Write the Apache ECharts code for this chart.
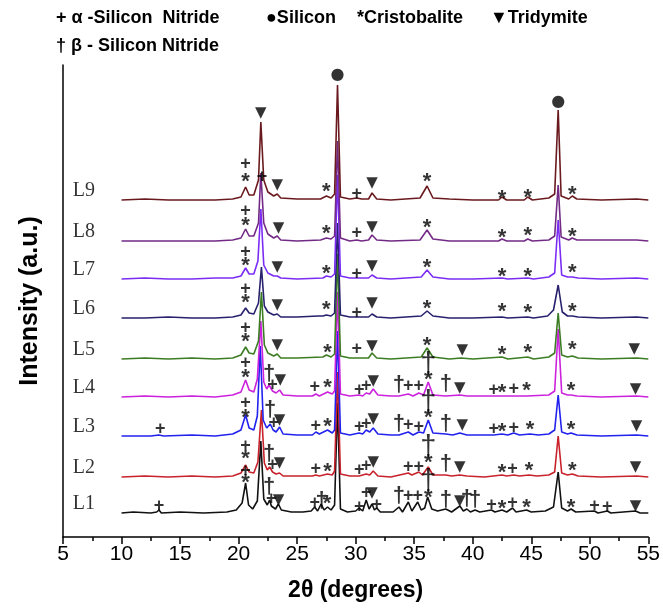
<!DOCTYPE html>
<html><head><meta charset="utf-8">
<script src="https://cdn.jsdelivr.net/npm/echarts@6/dist/echarts.min.js"></script>
<style>html,body{margin:0;padding:0;background:#fff}#c{width:663px;height:610px}</style>
</head><body><div id="c"></div>
<script>
// ---- DATA (2θ in degrees, relative intensity a.u.) ----
const seriesNames = ['L1','L2','L3','L4','L5','L6','L7','L8','L9'];
const stackOffsets = [24, 60, 101, 140, 178, 219, 258, 296, 337];
const xTicks = [5,10,15,20,25,30,35,40,45,50,55];

const L1 = [[10,0],[11,1],[12.5,0],[13.0,1],[13.2,3],[13.4,0],[15,1],[17,0],[19,1],[19.8,3],[20.3,10],[20.6,30],[20.85,8],[21.2,4],[21.6,12],[21.9,72],[22.15,14],[22.45,8],[22.65,13],[22.8,7],[22.95,9],[23.15,4],[23.4,9],[23.65,3],[24.5,1],[25.5,1],[26.2,2],[26.5,6],[26.75,2],[27.05,9],[27.3,3],[27.6,6],[27.9,3],[28.2,8],[28.45,110],[28.7,4],[29.3,1],[30.0,2],[30.3,5],[30.6,2],[30.9,13],[31.15,4],[31.4,9],[31.6,3],[31.8,5],[32.1,1],[33.2,1],[33.7,6],[34.0,1],[34.5,11],[34.8,2],[35.3,11],[35.6,3],[35.9,5],[36.15,16],[36.5,4],[37.0,2],[37.7,4],[38.2,1],[38.9,7],[39.2,2],[39.5,4],[39.8,1],[40.2,3],[40.6,1],[41.6,3],[41.9,1],[42.5,3],[42.9,1],[43.4,5],[43.7,1],[44.6,3],[45.0,1],[46.2,2],[46.9,6],[47.3,41],[47.6,5],[48.1,2],[48.4,4],[48.8,1],[50.4,2],[50.7,0],[51.5,2],[51.8,0],[53.9,2],[54.3,0],[55,0]];
const L2 = [[10,0],[12,1],[14,0],[16,1],[18,0],[19.5,1],[20.2,4],[20.6,12],[20.9,5],[21.3,4],[21.65,15],[21.95,67],[22.2,14],[22.45,7],[22.65,10],[22.9,5],[23.2,3],[23.5,4],[23.8,1],[25,1],[26.3,1],[26.6,2],[26.9,1],[27.6,3],[28.0,2],[28.2,6],[28.45,105],[28.7,3],[29.5,1],[30.3,1],[30.9,3],[31.2,2],[31.5,6],[31.9,1],[33,0],[34.5,4],[34.8,2],[35.4,5],[35.7,2],[36.2,10],[36.6,2],[37.7,2],[38.2,1],[38.9,2],[39.5,1],[41,0],[42.5,2],[42.9,1],[43.5,2],[44.0,1],[44.8,2],[45.5,1],[46.5,2],[47.0,5],[47.3,41],[47.6,4],[48.1,2],[48.5,3],[49,1],[51,0],[54,1],[55,0]];
const L3 = [[10,0],[12.5,0],[13.2,1],[13.6,0],[16,1],[18,0],[19.5,2],[20.2,6],[20.6,21],[20.9,8],[21.3,6],[21.6,20],[21.85,90],[22.1,16],[22.4,8],[22.7,12],[22.95,6],[23.2,4],[23.5,9],[23.8,2],[25,1],[26.3,1],[26.6,4],[26.9,2],[27.6,6],[28.0,3],[28.2,6],[28.45,105],[28.7,3],[29.5,1],[30.3,3],[30.6,2],[30.9,6],[31.2,4],[31.5,8],[31.9,2],[33.0,1],[33.7,1],[34.5,4],[34.9,1],[35.4,4],[35.8,3],[36.2,16],[36.6,3],[37.7,2],[38.3,1],[38.9,3],[39.5,1],[41.8,1],[42.5,2],[43.0,1],[43.5,3],[44.0,1],[44.9,2],[45.6,1],[46.5,2],[47.0,6],[47.3,41],[47.6,4],[48.1,2],[48.4,3],[48.9,1],[51,0],[54,1],[55,0]];
const L4 = [[10,0],[12,1],[14,0],[16,1],[18,0],[19.5,2],[20.2,5],[20.6,17],[20.9,7],[21.3,5],[21.6,18],[21.9,76],[22.15,15],[22.4,8],[22.6,12],[22.9,6],[23.2,4],[23.5,7],[23.8,2],[25,1],[26.3,1],[26.6,3],[26.9,1],[27.6,5],[28.0,3],[28.2,6],[28.45,105],[28.7,3],[29.5,1],[30.3,2],[30.6,1],[30.9,4],[31.2,3],[31.5,8],[31.9,2],[33.0,1],[33.7,1],[34.5,3],[34.9,1],[35.4,4],[35.8,2],[36.2,15],[36.6,2],[37.7,1],[38.9,2],[39.5,1],[42.5,1],[43.5,1],[44.6,1],[46.5,2],[47.0,6],[47.3,68],[47.6,4],[48.1,2],[48.4,2],[48.9,1],[51,0],[54,1],[55,0]];
const L5 = [[10,0],[12,1],[14,0],[16,1],[18,0],[19.5,1],[20.2,4],[20.6,12],[20.9,6],[21.3,5],[21.7,18],[21.95,67],[22.2,14],[22.5,6],[23.0,3],[23.3,5],[23.6,1],[25,1],[27.2,2],[27.5,4],[27.9,2],[28.2,5],[28.45,105],[28.7,3],[29.5,1],[30.1,1],[31.1,1],[31.4,6],[31.8,1],[33,0],[35.6,2],[36.1,11],[36.6,2],[38,0],[39.0,1],[40,0],[42.5,2],[43,0],[44.7,2],[45.2,0],[46.5,2],[47.0,6],[47.3,46],[47.6,4],[48.1,2],[48.5,3],[49,1],[51,0],[54,1],[55,0]];
const L6 = [[10,0],[12,0],[14,1],[16,0],[18,0],[19.5,1],[20.2,3],[20.6,10],[20.9,5],[21.3,4],[21.7,15],[21.95,51],[22.2,12],[22.5,6],[23.0,3],[23.3,4],[23.6,1],[25,1],[26.8,2],[27.2,2],[27.5,3],[27.9,2],[28.2,5],[28.45,95],[28.7,3],[29.5,1],[30.1,1],[31.1,1],[31.4,4],[31.8,1],[33,0],[35.6,2],[36.1,7],[36.6,2],[38,0],[40,0],[42.5,1],[43,0],[44.7,1],[45.2,0],[46.4,2],[46.9,8],[47.3,33],[47.65,6],[48.1,2],[48.5,2],[49,1],[51,0],[54,1],[55,0]];
const L7 = [[10,0],[12,1],[14,0],[16,0],[18,1],[19.5,1],[20.2,3],[20.6,11],[20.9,5],[21.3,5],[21.65,18],[21.9,70],[22.15,14],[22.5,6],[23.0,3],[23.3,3],[23.6,1],[25,0],[27.2,1],[27.5,3],[27.9,2],[28.2,5],[28.45,104],[28.7,3],[29.5,1],[30.1,1],[31.1,1],[31.4,4],[31.8,1],[33,0],[35.6,2],[36.1,9],[36.6,2],[38,0],[40,0],[42.5,1],[43,0],[44.7,1],[45.2,0],[46.5,2],[47.0,6],[47.3,59],[47.6,4],[48.1,2],[48.5,2],[49,1],[51,0],[54,1],[55,0]];
const L8 = [[10,0],[14,0],[18,0],[19.5,1],[20.2,3],[20.6,12],[20.9,5],[21.3,5],[21.7,18],[21.9,68],[22.15,18],[22.5,7],[23.0,3],[23.3,5],[23.6,1],[25,0],[27,1],[27.5,3],[27.9,2],[28.2,5],[28.45,100],[28.7,3],[29.5,0],[30.1,1],[30.5,0],[31.1,1],[31.4,6],[31.8,1],[33,0],[35.5,1],[36.1,11],[36.6,2],[38,0],[42.2,0],[42.5,2],[42.9,0],[44.4,0],[44.7,2],[45.1,0],[46.5,1],[47.0,5],[47.3,56],[47.55,4],[48.2,1],[48.5,3],[48.9,1],[54,1],[55,0]];
const L9 = [[10,0],[12,1],[14,0],[16,0],[18,0],[19.5,1],[20.2,3],[20.6,13],[20.9,5],[21.3,5],[21.7,20],[21.9,78],[22.15,20],[22.5,8],[23.0,4],[23.3,6],[23.6,2],[25,1],[27,1],[27.5,4],[27.9,2],[28.2,6],[28.45,115],[28.7,3],[29.5,1],[30.1,2],[30.5,1],[31.1,1],[31.4,7],[31.8,1],[33,0],[35.5,2],[36.1,14],[36.6,2],[38,1],[40,0],[42.2,0],[42.5,3],[42.9,0],[44.4,0],[44.7,3],[45.1,0],[46.5,2],[47.0,6],[47.3,90],[47.55,4],[48.2,1],[48.5,4],[48.9,1],[51,0],[54,1],[55,0]];

// phase marks: [2θ, glyph, height above the pattern's baseline]
const annL1 = [[13.2,'+',7],[20.6,'*',35],[20.6,'+',42],[22.6,'†',28],[22.8,'+',14],[23.4,'▼',13],[26.5,'+',10],[27.1,'†',14],[27.55,'*',14],[30.3,'+',6],[30.9,'+',20],[31.4,'▼',20],[31.8,'+',8],[33.7,'†',19],[34.5,'+',17],[35.3,'+',17],[36.2,'*',20],[36.2,'†L',34],[37.7,'†',15],[38.9,'▼',12],[39.5,'†',16],[40.2,'†',15],[41.6,'+',8],[42.5,'*',9],[43.4,'+',10],[44.6,'*',10],[48.4,'*',10],[50.4,'+',7],[51.5,'+',6],[53.9,'▼',7]];
const annL2 = [[20.6,'*',23],[20.6,'+',31],[22.6,'†',25],[22.9,'+',12],[23.5,'▼',14],[26.6,'+',8],[27.6,'*',10],[30.3,'+',7],[30.9,'+',11],[31.5,'▼',15],[34.5,'+',10],[35.4,'+',10],[36.2,'*',19],[36.2,'†L',32],[37.7,'†',15],[38.9,'▼',10],[42.5,'*',9],[43.4,'+',8],[44.8,'*',11],[48.5,'*',11],[53.9,'▼',10]];
const annL3 = [[13.3,'+',7],[20.6,'*',23],[20.6,'+',33],[22.7,'†',28],[23.0,'+',13],[23.5,'▼',16],[26.6,'+',10],[27.6,'*',14],[30.3,'+',9],[30.9,'+',12],[31.5,'▼',17],[33.7,'†',14],[34.5,'+',11],[35.4,'+',9],[36.2,'*',23],[36.2,'†L',36],[37.7,'†',14],[39.1,'▼',11],[41.8,'+',7],[42.5,'*',9],[43.5,'+',8],[44.9,'*',11],[48.4,'*',11],[54.0,'▼',10]];
const annL4 = [[20.6,'*',24],[20.6,'+',34],[22.6,'†',25],[22.9,'+',12],[23.55,'▼',17],[26.5,'+',10],[27.6,'*',14],[30.3,'+',7],[30.9,'+',11],[31.5,'▼',16],[33.7,'†',14],[34.5,'+',11],[35.4,'+',11],[36.2,'*',22],[36.2,'†L',35],[37.7,'†',15],[38.9,'▼',9],[41.8,'+',7],[42.5,'*',9],[43.5,'+',8],[44.6,'*',11],[48.4,'*',11],[53.9,'▼',8]];
const annL5 = [[20.6,'*',22],[20.6,'+',31],[23.3,'▼',14],[27.6,'*',11],[30.1,'+',10],[31.4,'▼',13],[36.1,'*',18],[39.1,'▼',9],[42.5,'*',9],[44.7,'*',11],[48.5,'*',14],[53.8,'▼',10]];
const annL6 = [[20.6,'*',20],[20.6,'+',29],[23.3,'▼',13],[27.5,'*',13],[30.1,'+',5],[31.4,'▼',15],[36.1,'*',14],[42.5,'*',11],[44.7,'*',10],[48.5,'*',11]];
const annL7 = [[20.6,'*',18],[20.6,'+',27],[23.3,'▼',12],[27.5,'*',10],[30.1,'+',5],[31.4,'▼',13],[36.1,'*',16],[42.5,'*',7],[44.7,'*',7],[48.5,'*',11]];
const annL8 = [[20.6,'*',20],[20.6,'+',30],[23.4,'▼',13],[27.5,'*',12],[30.1,'+',8],[31.4,'▼',14],[36.1,'*',18],[42.5,'*',8],[44.7,'*',10],[48.5,'*',9]];
const annL9 = [[20.6,'*',23],[20.6,'+',36],[22.0,'+',23],[21.9,'▼',87],[23.3,'▼',15],[27.5,'*',13],[28.45,'●',125],[30.1,'+',6],[31.4,'▼',17],[36.1,'*',23],[42.5,'*',6],[44.7,'*',7],[47.3,'●',98],[48.5,'*',10]];

// ---- BUILD ----
const patterns = [L1,L2,L3,L4,L5,L6,L7,L8,L9];
const marks = [annL1,annL2,annL3,annL4,annL5,annL6,annL7,annL8,annL9];
const colors = ['#111111','#c8232c','#2222ee','#cc22dd','#3c7d23','#27216e','#7a2cf5','#732a86','#6a1a1e'];

const glyph = {
  '+': {text:'+', fontSize:18, fontWeight:'bold', fontFamily:'Liberation Sans', offset:[0,0]},
  '*': {text:'*', fontSize:22, fontWeight:'bold', fontFamily:'Liberation Sans', offset:[0,5]},
  '†': {text:'†', fontSize:22, fontWeight:'bold', fontFamily:'Liberation Sans', offset:[0,2]},
  '†L': {text:'†', fontSize:29, fontWeight:'normal', fontFamily:'Liberation Sans', offset:[0,3]},
  '▼': {text:'▼', fontSize:15, fontWeight:'normal', fontFamily:'DejaVu Sans', offset:[0,0]},
  '●': {text:'●', fontSize:16, fontWeight:'normal', fontFamily:'DejaVu Sans', offset:[0,0]}
};
const clear = 'rgba(0,0,0,0)';

const series = [];
patterns.forEach((p, i) => {
  series.push({
    type:'line', name:seriesNames[i], data:p.map(d => [d[0], d[1] + stackOffsets[i]]),
    showSymbol:false, symbol:'none', lineStyle:{color:colors[i], width:1.6}, z:2, animation:false
  });
});
const markData = [];
marks.forEach((m, i) => {
  m.forEach(a => {
    const g = glyph[a[1]];
    markData.push({value:[a[0], a[2] + stackOffsets[i]], label:{show:true, position:'inside', formatter:g.text,
      fontSize:g.fontSize, fontWeight:g.fontWeight, fontFamily:g.fontFamily, color:'#000', offset:g.offset}});
  });
});
series.push({type:'scatter', data:markData, symbolSize:1, itemStyle:{color:clear}, z:5, silent:true, animation:false});
series.push({type:'scatter', silent:true, animation:false, symbolSize:1, itemStyle:{color:clear}, z:5,
  data: seriesNames.map((n,i)=>({value:[10, stackOffsets[i]], label:{show:true, position:'left', distance:26, offset:[0,-9],
    formatter:n, fontFamily:'Liberation Serif', fontSize:20, color:'#000'}}))});

const chart = echarts.init(document.getElementById('c'), null, {renderer:'canvas'});
chart.setOption({
  animation:false,
  backgroundColor:'#fff',
  grid:{left:63, right:13, top:65, bottom:73},
  xAxis:{type:'value', min:xTicks[0], max:xTicks[xTicks.length-1], interval:5, minorTick:{show:true, splitNumber:2, length:4, lineStyle:{color:'#000', width:1.5}},
    axisLine:{onZero:false, lineStyle:{color:'#000', width:1.5}}, axisTick:{inside:false, length:7, lineStyle:{color:'#000', width:1.5}},
    splitLine:{show:false}, axisLabel:{color:'#000', fontSize:21, fontFamily:'Liberation Sans', margin:7},
    name:'2θ (degrees)', nameLocation:'middle', nameGap:42, nameTextStyle:{fontSize:23, fontWeight:'bold', fontFamily:'Liberation Sans', color:'#000'}},
  yAxis:{type:'value', min:0, max:472, axisLine:{show:true, lineStyle:{color:'#000', width:1.5}}, axisTick:{show:false}, axisLabel:{show:false}, splitLine:{show:false},
    name:'Intensity (a.u.)', nameLocation:'middle', nameGap:20, nameTextStyle:{fontSize:25, fontWeight:'bold', fontFamily:'Liberation Sans', color:'#000'}},
  graphic:[
    {type:'text', left:56, top:9, style:{text:'+ α -Silicon  Nitride', font:'bold 18px "Liberation Sans"', fill:'#000'}},
    {type:'text', left:266, top:9, style:{text:'●Silicon', font:'bold 18px "Liberation Sans"', fill:'#000'}},
    {type:'text', left:357, top:9, style:{text:'*Cristobalite', font:'bold 18px "Liberation Sans"', fill:'#000'}},
    {type:'text', left:490, top:9, style:{text:'▼Tridymite', font:'bold 18px "Liberation Sans"', fill:'#000'}},
    {type:'text', left:56, top:37, style:{text:'† β - Silicon Nitride', font:'bold 18px "Liberation Sans"', fill:'#000'}}
  ],
  series:series
});
</script></body></html>
